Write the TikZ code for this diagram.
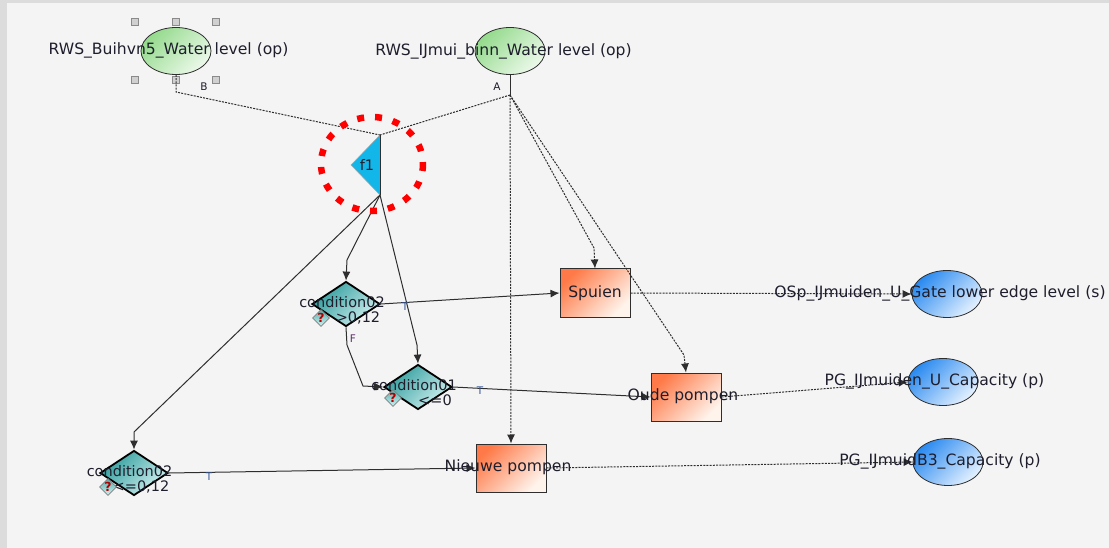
\documentclass[tikz,border=0pt]{standalone}
\usepackage{fontspec}
\setmainfont{DejaVu Sans}
\usetikzlibrary{shapes.geometric,arrows.meta}
\definecolor{bgc}{HTML}{F4F4F4}
\definecolor{frame}{HTML}{DCDCDC}
\definecolor{txt}{HTML}{1E1E2C}
\definecolor{lin}{HTML}{2E2E2E}
\definecolor{g1}{HTML}{94DA8C}
\definecolor{g2}{HTML}{ECF9EA}
\definecolor{b1}{HTML}{2A8AF0}
\definecolor{b2}{HTML}{E4F1FF}
\definecolor{o1}{HTML}{FF7A48}
\definecolor{o2}{HTML}{FFF4EC}
\definecolor{t1}{HTML}{2E9C9C}
\definecolor{t2}{HTML}{D2F0F0}
\definecolor{cy}{HTML}{12B6E8}
\definecolor{tcol}{HTML}{3A5A9A}
\definecolor{fcol}{HTML}{5A2E6A}
\definecolor{hf}{HTML}{D0D0D0}
\definecolor{hb}{HTML}{8A8A8A}
\begin{document}
\begin{tikzpicture}[x=1pt,y=-1pt,
  lbl/.style={font=\fontsize{15.6}{18}\selectfont, text=txt, inner sep=0},
  clbl/.style={font=\fontsize{14.5}{17}\selectfont, text=txt, inner sep=0},
  smalllbl/.style={font=\fontsize{10.5}{12}\selectfont, text=txt, inner sep=0},
  gell/.style={ellipse, draw=lin, line width=0.8pt, minimum width=70pt, minimum height=47pt, inner sep=0, top color=g1, bottom color=g2, shading angle=45},
  bell/.style={ellipse, draw=lin, line width=0.8pt, minimum width=70pt, minimum height=47pt, inner sep=0, top color=b1, bottom color=b2, shading angle=45},
  act/.style={rectangle, draw=lin, line width=1pt, minimum width=70pt, minimum height=48pt, inner sep=0, top color=o1, bottom color=o2, shading angle=45},
  cond/.style={diamond, draw=black, line width=1.8pt, minimum width=68pt, minimum height=45pt, inner sep=0, aspect=1.5, top color=t1, bottom color=t2, shading angle=45},
  sline/.style={draw=lin, line width=1pt},
  dline/.style={draw=lin, line width=1pt, dash pattern=on 2pt off 1.2pt},
  arr/.style={-{Latex[length=9pt,width=8pt]}},
  handle/.style={rectangle, draw=hb, fill=hf, minimum size=7pt, inner sep=0, line width=0.6pt},
  qicon/.style={diamond, draw=gray, line width=0.6pt, top color=t1!80, bottom color=t2, minimum size=17pt, inner sep=0, font=\bfseries\fontsize{12.5}{13}\selectfont, text=red!70!black}
]
% background
\fill[frame] (0,0) rectangle (1109,548);
\fill[bgc] (7,3) rectangle (1109,548);
\useasboundingbox (0,0) rectangle (1109,548);

% shapes
\node[gell] (wl1) at (176,51) {};
\node[gell] (wl2) at (510,51) {};
\node[bell] (osp) at (947,294) {};
\node[bell] (pg1) at (943,382) {};
\node[bell] (pg2) at (948,462) {};
\node[act] (spuien) at (595,293) {};
\node[act] (oude) at (686,397) {};
\node[act] (nieuwe) at (511,468) {};
\node[cond] (c2u) at (346,304) {};
\node[cond] (c1) at (418,387) {};
\node[cond] (c2l) at (134,473) {};

% selection handles
\foreach \hx/\hy [count=\i] in {135/22,176/22,216/22,135/80,176/80,216/80}
  \node[handle] (h\i) at (\hx,\hy) {};

% f1 triangle
\coordinate (f1t) at (380,135);
\coordinate (f1b) at (380,195);
\coordinate (f1l) at (351,165);
\fill[cy] (f1t) -- (f1b) -- (f1l) -- cycle;
\draw[lin, line width=0.8pt] (f1t) -- (f1b);
\draw[gray!70, line width=0.5pt] (f1b) -- (f1l) -- (f1t);
\node[clbl, font=\fontsize{14.5}{16}\selectfont] (f1) at (367,165) {f1};

% bend points
\coordinate (bB) at (176,92);
\coordinate (aA) at (510,95);
\coordinate (sp1) at (594,248);
\coordinate (op1) at (684,355);
\coordinate (k1) at (347,260);
\coordinate (k2) at (417,345);
\coordinate (k3) at (134,432);
\coordinate (fa) at (347,345);
\coordinate (fb) at (363,386);

% connectors
\draw[dline] (wl1.south) -- (bB) -- (f1t);
\draw[sline] (wl2.south) -- (aA);
\draw[dline] (aA) -- (f1t);
\draw[dline,arr] (aA) -- (nieuwe.north);
\draw[dline,arr] (aA) -- (sp1) -- (spuien.north);
\draw[dline,arr] (aA) -- (op1) -- (oude.north);
\draw[sline,arr] (f1b) -- (k1) -- (c2u.north);
\draw[sline,arr] (f1b) -- (k2) -- (c1.north);
\draw[sline,arr] (f1b) -- (k3) -- (c2l.north);
\draw[sline,arr] (c2u.east) -- (spuien.west);
\draw[sline,arr] (c2u.south) -- (fa) -- (fb) -- (c1.west);
\draw[sline,arr] (c1.east) -- (oude.west);
\draw[sline,arr] (c2l.east) -- (nieuwe.west);
\draw[dline,arr] (spuien.east) -- (osp.west);
\draw[dline,arr] (oude.east) -- (pg1.west);
\draw[dline,arr] (nieuwe.east) -- (pg2.west);

% red highlight circle
\draw[red, line width=6.5pt, dash pattern=on 7pt off 11pt] (372,164) ellipse [x radius=51, y radius=47];

% labels
\node[lbl] (l1) at (168.5,50) {RWS\_Buihvn5\_Water level (op)};
\node[lbl] (l2) at (503.5,51) {RWS\_IJmui\_binn\_Water level (op)};
\node[lbl] (l3) at (940,293) {OSp\_IJmuiden\_U\_Gate lower edge level (s)};
\node[lbl] (l4) at (934.5,381) {PG\_IJmuiden\_U\_Capacity (p)};
\node[lbl] (l5) at (940,461) {PG\_IJmuidB3\_Capacity (p)};
\node[lbl] (l6) at (595,293) {Spuien};
\node[lbl] (l7) at (683,396) {Oude pompen};
\node[lbl] (l8) at (508,467) {Nieuwe pompen};
\node[clbl] (l9) at (342,302) {condition02};
\node[clbl] (l10) at (358,318) {>0,12};
\node[clbl] (l11) at (414,385) {condition01};
\node[clbl] (l12) at (435,400) {<=0};
\node[clbl] (l13) at (129.5,471) {condition02};
\node[clbl] (l14) at (141,487) {<=0,12};
\node[qicon] (q1) at (321,318) {?};
\node[qicon] (q2) at (393,398) {?};
\node[qicon] (q3) at (108,487) {?};
\node[smalllbl] (lb) at (204,87) {B};
\node[smalllbl] (la) at (497,87) {A};
\node[smalllbl, text=tcol] (t1) at (405,307) {T};
\node[smalllbl, text=fcol] (fl) at (353,339) {F};
\node[smalllbl, text=tcol] (t2) at (480,391) {T};
\node[smalllbl, text=tcol] (t3) at (209,477) {T};
\end{tikzpicture}
\end{document}
